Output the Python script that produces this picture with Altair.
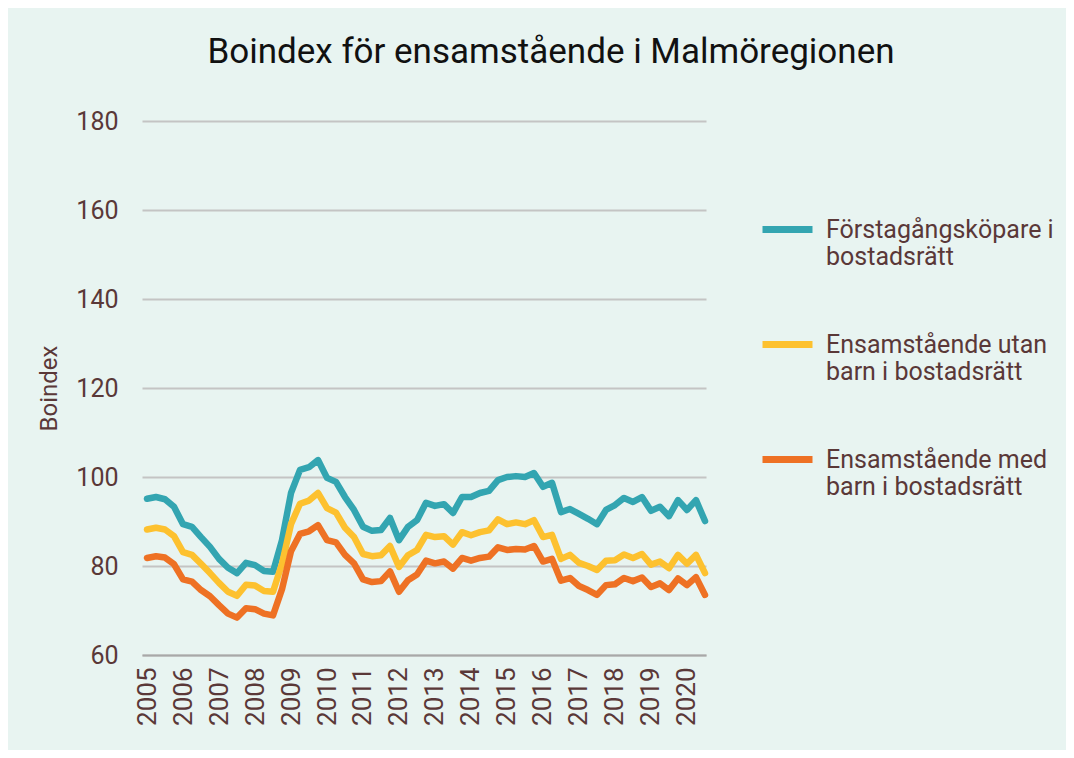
import altair as alt
import pandas as pd

years = list(range(2005, 2021))
quarters = [f"{y}Q{q}" for y in years for q in range(1, 5)][:63]

forsta = [95.1, 95.5, 95.0, 93.3, 89.4, 88.8, 86.5, 84.3, 81.6, 79.6, 78.4, 80.7,
          80.2, 78.9, 78.7, 85.8, 96.4, 101.6, 102.2, 103.8, 99.8, 98.9, 95.5, 92.6,
          88.8, 87.9, 88.1, 90.8, 85.8, 88.8, 90.3, 94.2, 93.5, 93.9, 91.9, 95.5,
          95.5, 96.4, 96.9, 99.3, 100.0, 100.2, 100.0, 100.9, 97.8, 98.7, 92.1, 92.8,
          91.7, 90.6, 89.4, 92.6, 93.7, 95.3, 94.4, 95.5, 92.4, 93.3, 91.2, 94.8,
          92.6, 94.8, 90.1]
utan = [88.2, 88.6, 88.2, 86.7, 83.1, 82.5, 80.5, 78.4, 76.2, 74.2, 73.3, 75.8,
        75.6, 74.4, 74.2, 80.5, 89.4, 94.0, 94.7, 96.4, 93.0, 92.0, 88.6, 86.5,
        82.7, 82.2, 82.4, 84.5, 79.8, 82.4, 83.6, 87.0, 86.5, 86.7, 84.8, 87.6,
        86.9, 87.6, 88.0, 90.5, 89.4, 89.8, 89.4, 90.3, 86.5, 87.0, 81.6, 82.5,
        80.7, 80.0, 79.1, 81.2, 81.3, 82.6, 81.8, 82.7, 80.3, 81.0, 79.5, 82.5,
        80.5, 82.5, 78.4]
med = [81.8, 82.2, 81.9, 80.4, 77.0, 76.5, 74.6, 73.2, 71.2, 69.3, 68.4, 70.5,
       70.3, 69.3, 68.9, 74.8, 83.3, 87.2, 87.8, 89.2, 85.8, 85.3, 82.5, 80.6,
       77.0, 76.4, 76.6, 78.8, 74.2, 76.8, 78.1, 81.2, 80.6, 81.0, 79.4, 81.8,
       81.2, 81.8, 82.1, 84.2, 83.6, 83.8, 83.7, 84.5, 81.0, 81.6, 76.7, 77.3,
       75.5, 74.6, 73.5, 75.7, 75.9, 77.3, 76.6, 77.4, 75.3, 76.1, 74.6, 77.2,
       75.7, 77.5, 73.5]

series_names = ["Förstagångsköpare i|bostadsrätt",
                "Ensamstående utan|barn i bostadsrätt",
                "Ensamstående med|barn i bostadsrätt"]
series_values = [forsta, utan, med]
colors = ["#33A5B1", "#FDC12F", "#EE7124"]

rows = []
for name, vals in zip(series_names, series_values):
    for qs, v in zip(quarters, vals):
        y = int(qs[:4]); q = int(qs[-1])
        rows.append({"t": y + (q - 1) / 4, "Serie": name, "Boindex": v})
df = pd.DataFrame(rows)

FONT = "Roboto"
TXT = "#5A3838"

chart = alt.Chart(df).mark_line(strokeWidth=6.5, strokeCap="round", strokeJoin="round").encode(
    x=alt.X("t:Q", scale=alt.Scale(domain=[2004.861, 2020.528], nice=False, zero=False),
            axis=alt.Axis(values=years, format="d", labelAngle=-90, title=None,
                          grid=False, ticks=False, domain=True, domainColor="#A8A8A8",
                          domainWidth=2, labelFontSize=26, labelColor=TXT, labelFont=FONT,
                          labelPadding=12)),
    y=alt.Y("Boindex:Q", scale=alt.Scale(domain=[60, 180], nice=False, zero=False),
            axis=alt.Axis(values=[60, 80, 100, 120, 140, 160, 180], title="Boindex",
                          grid=True, gridColor="#C4C4C4", gridWidth=2, ticks=False,
                          domain=False, labelFontSize=25, labelColor=TXT, labelFont=FONT,
                          labelPadding=24, titleFontSize=24, titleFontWeight="normal",
                          titleColor=TXT, titleFont=FONT, titlePadding=14)),
    color=alt.Color("Serie:N", sort=series_names,
                    scale=alt.Scale(domain=series_names, range=colors),
                    legend=alt.Legend(title=None, orient="none", legendX=617, legendY=80,
                                      symbolType="stroke", symbolSize=2500,
                                      symbolStrokeWidth=7, labelFontSize=25,
                                      labelColor=TXT, labelFont=FONT, labelOffset=10,
                                      labelExpr="split(datum.label, '|')",
                                      labelLimit=400, rowPadding=46, labelBaseline="middle")),
).properties(
    width=564, height=534,
    title=alt.TitleParams("Boindex för ensamstående i Malmöregionen", fontSize=35,
                          font=FONT, fontWeight="normal", color="#111111",
                          anchor="middle", dx=127, offset=39),
    background="#E8F4F1",
    padding={"left": 134, "top": 113, "right": 360, "bottom": 95},
    autosize=alt.AutoSizeParams(type="none"),
).configure_view(stroke=None)

chart.save("out.html", embed_options={"renderer": "svg", "actions": False})
